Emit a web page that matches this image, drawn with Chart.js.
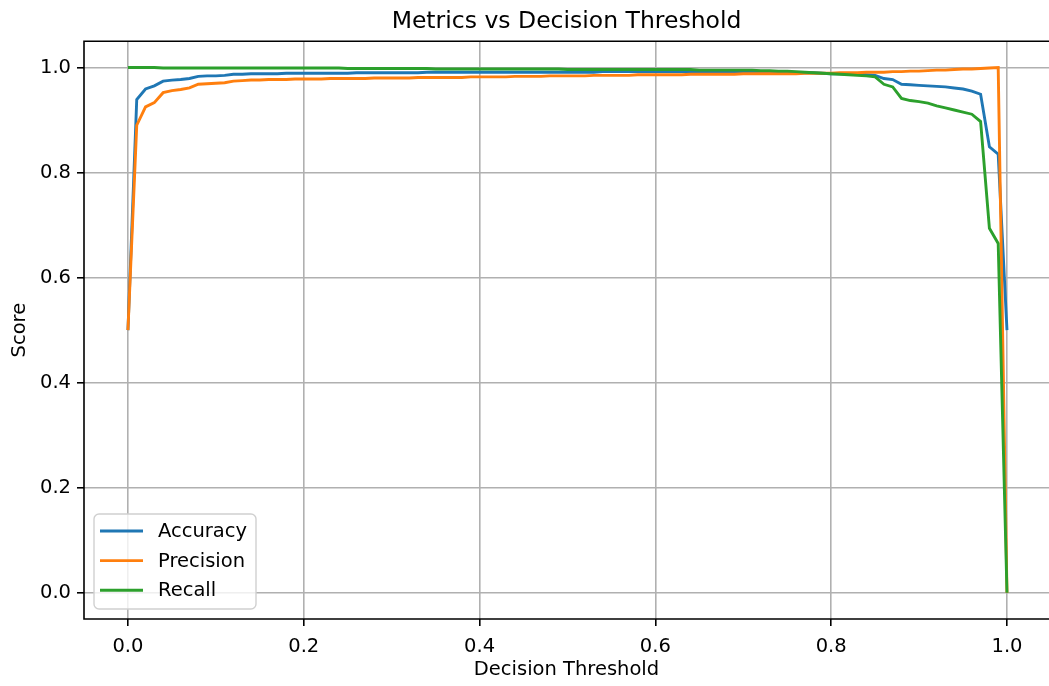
<!DOCTYPE html>
<html>
<head>
<meta charset="utf-8">
<script src="https://cdn.jsdelivr.net/npm/chart.js@4.4.1/dist/chart.umd.min.js"></script>
<style>
html, body { margin:0; padding:0; background:#fff; overflow:hidden; }
</style>
</head>
<body>
<canvas id="chartMetricas" width="1049" height="686"></canvas>
<script>
/* Metrics vs Decision Threshold — accuracy / precision / recall */

const UMBRALES = [
  0.00, 0.01, 0.02, 0.03, 0.04, 0.05, 0.06, 0.07, 0.08, 0.09,
  0.10, 0.11, 0.12, 0.13, 0.14, 0.15, 0.16, 0.17, 0.18, 0.19,
  0.20, 0.21, 0.22, 0.23, 0.24, 0.25, 0.26, 0.27, 0.28, 0.29,
  0.30, 0.31, 0.32, 0.33, 0.34, 0.35, 0.36, 0.37, 0.38, 0.39,
  0.40, 0.41, 0.42, 0.43, 0.44, 0.45, 0.46, 0.47, 0.48, 0.49,
  0.50, 0.51, 0.52, 0.53, 0.54, 0.55, 0.56, 0.57, 0.58, 0.59,
  0.60, 0.61, 0.62, 0.63, 0.64, 0.65, 0.66, 0.67, 0.68, 0.69,
  0.70, 0.71, 0.72, 0.73, 0.74, 0.75, 0.76, 0.77, 0.78, 0.79,
  0.80, 0.81, 0.82, 0.83, 0.84, 0.85, 0.86, 0.87, 0.88, 0.89,
  0.90, 0.91, 0.92, 0.93, 0.94, 0.95, 0.96, 0.97, 0.98, 0.99,
  1.00
];

const ACCURACY = [
  0.500, 0.939, 0.959, 0.965, 0.974, 0.976, 0.977, 0.979, 0.983, 0.984,
  0.984, 0.985, 0.987, 0.987, 0.988, 0.988, 0.988, 0.988, 0.989, 0.989,
  0.989, 0.989, 0.989, 0.989, 0.989, 0.989, 0.990, 0.990, 0.990, 0.990,
  0.990, 0.990, 0.990, 0.990, 0.991, 0.991, 0.991, 0.991, 0.991, 0.991,
  0.991, 0.991, 0.991, 0.991, 0.991, 0.991, 0.991, 0.991, 0.991, 0.991,
  0.991, 0.991, 0.991, 0.991, 0.992, 0.992, 0.992, 0.992, 0.992, 0.992,
  0.992, 0.992, 0.992, 0.992, 0.992, 0.992, 0.992, 0.992, 0.992, 0.992,
  0.992, 0.992, 0.992, 0.991, 0.991, 0.991, 0.990, 0.990, 0.990, 0.989,
  0.988, 0.988, 0.987, 0.987, 0.986, 0.985, 0.979, 0.977, 0.968, 0.967,
  0.966, 0.965, 0.964, 0.963, 0.961, 0.959, 0.955, 0.949, 0.849, 0.835,
  0.500
];

const PRECISION = [
  0.500, 0.890, 0.925, 0.933, 0.952, 0.956, 0.958, 0.961, 0.968, 0.969,
  0.970, 0.971, 0.974, 0.975, 0.976, 0.976, 0.977, 0.977, 0.977, 0.978,
  0.978, 0.978, 0.978, 0.979, 0.979, 0.979, 0.979, 0.979, 0.980, 0.980,
  0.980, 0.980, 0.980, 0.981, 0.981, 0.981, 0.981, 0.981, 0.981, 0.982,
  0.982, 0.982, 0.982, 0.982, 0.983, 0.983, 0.983, 0.983, 0.984, 0.984,
  0.984, 0.984, 0.984, 0.985, 0.985, 0.985, 0.985, 0.985, 0.986, 0.986,
  0.986, 0.986, 0.986, 0.986, 0.987, 0.987, 0.987, 0.987, 0.987, 0.987,
  0.988, 0.988, 0.988, 0.988, 0.988, 0.988, 0.988, 0.989, 0.989, 0.989,
  0.989, 0.990, 0.990, 0.990, 0.991, 0.991, 0.991, 0.992, 0.992, 0.993,
  0.993, 0.994, 0.995, 0.995, 0.996, 0.997, 0.997, 0.998, 0.999, 1.000,
  0.000
];

const RECALL = [
  1.000, 1.000, 1.000, 1.000, 0.999, 0.999, 0.999, 0.999, 0.999, 0.999,
  0.999, 0.999, 0.999, 0.999, 0.999, 0.999, 0.999, 0.999, 0.999, 0.999,
  0.999, 0.999, 0.999, 0.999, 0.999, 0.998, 0.998, 0.998, 0.998, 0.998,
  0.998, 0.998, 0.998, 0.998, 0.998, 0.997, 0.997, 0.997, 0.997, 0.997,
  0.997, 0.997, 0.997, 0.997, 0.997, 0.997, 0.997, 0.997, 0.997, 0.997,
  0.996, 0.996, 0.996, 0.996, 0.996, 0.996, 0.996, 0.996, 0.996, 0.996,
  0.996, 0.996, 0.996, 0.996, 0.996, 0.995, 0.995, 0.995, 0.995, 0.995,
  0.995, 0.995, 0.994, 0.994, 0.993, 0.993, 0.992, 0.991, 0.990, 0.989,
  0.988, 0.987, 0.986, 0.985, 0.984, 0.982, 0.968, 0.963, 0.941, 0.937,
  0.935, 0.932, 0.927, 0.923, 0.919, 0.915, 0.911, 0.897, 0.694, 0.665,
  0.000
];

const TICKS_X = [0.0, 0.2, 0.4, 0.6, 0.8, 1.0];
const TICKS_Y = [0.0, 0.2, 0.4, 0.6, 0.8, 1.0];

const FUENTE = '"DejaVu Sans", sans-serif';
const azul = '#1f77b4', naranja = '#ff7f0e', verde = '#2ca02c';

const puntos = serie => UMBRALES.map((u, i) => ({ x: u, y: serie[i] }));

// ── Marco (spines: izquierda, arriba, abajo; la derecha queda fuera de la imagen) ──
const marcoPlugin = { id:'marco', afterDatasetsDraw(chart) {
    const {ctx, chartArea:a} = chart;
    ctx.save();
    ctx.strokeStyle = '#000';
    ctx.lineWidth = 1.6;
    ctx.beginPath();
    ctx.moveTo(a.right + 2, a.top);    ctx.lineTo(a.left, a.top);
    ctx.lineTo(a.left, a.bottom);      ctx.lineTo(a.right + 2, a.bottom);
    ctx.stroke();
    ctx.restore();
}};

// ── Leyenda dentro del área ───────────────────────────────────────────────────
const leyendaPlugin = { id:'leyenda', afterDraw(chart) {
    const {ctx, chartArea:a} = chart;
    const x0 = a.left + 10, y0 = a.bottom - 105, w = 162, h = 95;
    ctx.save();
    ctx.beginPath();
    ctx.roundRect(x0, y0, w, h, 5);
    ctx.fillStyle = 'rgba(255,255,255,0.8)';
    ctx.fill();
    ctx.strokeStyle = '#d0d0d0';
    ctx.lineWidth = 1.4;
    ctx.stroke();
    chart.data.datasets.forEach((ds, i) => {
        const y = y0 + 17 + i * 29.6;
        ctx.strokeStyle = ds.borderColor;
        ctx.lineWidth = 2.9;
        ctx.beginPath(); ctx.moveTo(x0 + 6, y); ctx.lineTo(x0 + 49, y); ctx.stroke();
        ctx.fillStyle = '#000';
        ctx.font = '19.5px ' + FUENTE;
        ctx.textBaseline = 'middle';
        ctx.fillText(ds.label, x0 + 64, y + 1);
    });
    ctx.restore();
}};

const ejeComun = {
    grid: { color:'#b0b0b0', lineWidth:1.6, drawTicks:true, tickLength:7, tickColor:'#000', tickWidth:1.6 },
    border: { display:false },
    ticks: { font:{ family:FUENTE, size:19.5 }, color:'#000', padding:6, callback: v => v.toFixed(1) }
};

new Chart(document.getElementById('chartMetricas'), {
    type: 'line',
    data: {
        datasets: [
            { label:'Accuracy',  data:puntos(ACCURACY),  borderColor:azul,    order:3 },
            { label:'Precision', data:puntos(PRECISION), borderColor:naranja, order:2 },
            { label:'Recall',    data:puntos(RECALL),    borderColor:verde,   order:1 }
        ]
    },
    options: {
        responsive:false, animation:false, devicePixelRatio:1,
        layout: { padding:{ left:0, right:0, top:0, bottom:0 } },
        elements: {
            line:  { borderWidth:2.9, tension:0, fill:false, borderCapStyle:'butt' },
            point: { radius:0, hoverRadius:0 }
        },
        plugins: {
            legend: { display:false },
            tooltip: { enabled:false },
            title: {
                display:true, fullSize:false, text:'Metrics vs Decision Threshold', color:'#000',
                font:{ family:FUENTE, size:23.5, weight:'normal' }, padding:{ top:8, bottom:5 }
            }
        },
        scales: {
            x: Object.assign({}, ejeComun, {
                // el eje llega hasta 1.05; la imagen está recortada en ~1.048
                type:'linear', min:-0.05, max:1.0478,
                ticks: Object.assign({}, ejeComun.ticks, { padding:9 }),
                afterBuildTicks: s => { s.ticks = TICKS_X.map(v => ({ value:v })); },
                afterFit: s => { s.height = 67; },
                title: { display:true, text:'Decision Threshold', color:'#000',
                         font:{ family:FUENTE, size:19.5 }, padding:{ top:0, bottom:4 } }
            }),
            y: Object.assign({}, ejeComun, {
                type:'linear', min:-0.05, max:1.05,
                afterBuildTicks: s => { s.ticks = TICKS_Y.map(v => ({ value:v })); },
                afterFit: s => { s.width = 84; },
                title: { display:true, text:'Score', color:'#000',
                         font:{ family:FUENTE, size:19.5 }, padding:{ top:8, bottom:0 } }
            })
        }
    },
    plugins: [marcoPlugin, leyendaPlugin]
});
</script>
</body>
</html>
